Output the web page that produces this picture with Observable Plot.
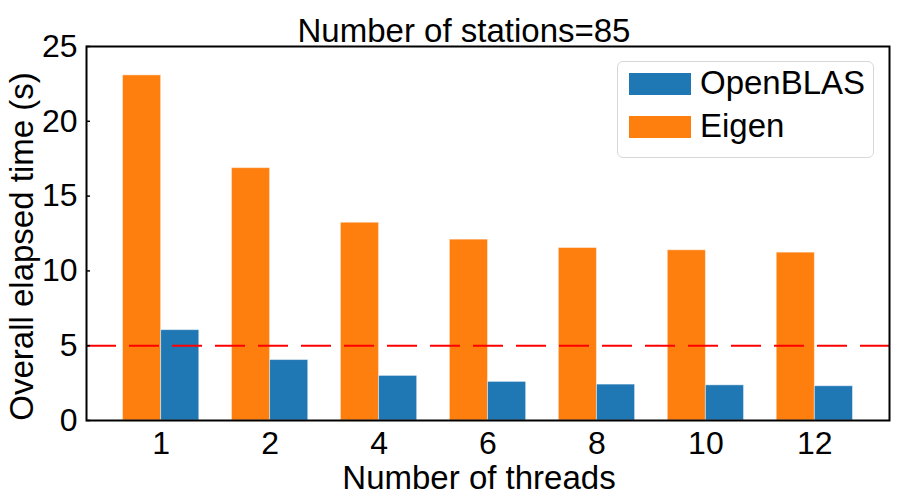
<!DOCTYPE html>
<html>
<head>
<meta charset="utf-8">
<script src="https://cdn.jsdelivr.net/npm/d3@7"></script>
<script src="https://cdn.jsdelivr.net/npm/@observablehq/plot@0.6"></script>
<style>
  html, body { margin: 0; padding: 0; background: white; }
  #wrap { position: relative; width: 898px; height: 499px; font-family: "Liberation Sans", Arial, sans-serif; color: black; }
  #title { position: relative; height: 44px; }
  #title span { position: absolute; left: 464px; top: 14px; transform: translateX(-50%); font-size: 33px; line-height: 33px; white-space: nowrap; }
  #legend { position: absolute; left: 617px; top: 61px; width: 257px; height: 97px; box-sizing: border-box;
            border: 1.5px solid #d8d8d8; border-radius: 6px; background: rgba(255,255,255,0.8); }
  .row { position: absolute; left: 11px; height: 22px; }
  .sw { position: absolute; left: 0; top: 0; width: 62px; height: 22px; }
  .lb { position: absolute; left: 71px; top: -7px; font-size: 33px; line-height: 33px; white-space: nowrap; }
  svg { display: block; }
</style>
</head>
<body>
<div id="wrap">
  <div id="title"><span></span></div>
  <div id="chart"></div>
  <div id="legend"></div>
</div>
<script>
// ---- data ----
const threads = ["1", "2", "4", "6", "8", "10", "12"];
const eigen = [23.07, 16.87, 13.22, 12.09, 11.53, 11.38, 11.22];
const openblas = [6.04, 4.04, 2.98, 2.58, 2.40, 2.35, 2.29];
const threshold = 5;
const yTicks = [0, 5, 10, 15, 20, 25];
const seriesNames = ["OpenBLAS", "Eigen"];
const titleText = "Number of stations=85";
const xLabel = "Number of threads";
const yLabel = "Overall elapsed time (s)";

// ---- styles ----
const colors = {OpenBLAS: "#1f77b4", Eigen: "#ff7f0e"};
const barWidth = 0.35;

const rows = threads.map((t, i) => ({i, t, eigen: eigen[i], openblas: openblas[i]}));
const lo = -barWidth, hi = threads.length - 1 + barWidth;
const pad = (hi - lo) * 0.05;

document.querySelector("#title span").textContent = titleText;

const chart = Plot.plot({
  width: 898,
  height: 455,
  marginTop: 2,
  marginBottom: 79,
  marginLeft: 86,
  marginRight: 9,
  style: {fontFamily: "'Liberation Sans', Arial, sans-serif", background: "white", color: "black", overflow: "visible"},
  x: {domain: [lo - pad, hi + pad]},
  y: {domain: [0, 25]},
  marks: [
    Plot.rectY(rows, {x1: d => d.i - barWidth, x2: d => d.i, y: "eigen", fill: colors.Eigen, stroke: "white", strokeOpacity: 0.45, strokeWidth: 1}),
    Plot.rectY(rows, {x1: d => d.i, x2: d => d.i + barWidth, y: "openblas", fill: colors.OpenBLAS, stroke: "white", strokeOpacity: 0.45, strokeWidth: 1}),
    Plot.ruleY([threshold], {stroke: "#ff0000", strokeWidth: 2, strokeDasharray: "30,13"}),
    Plot.axisY({ticks: yTicks, tickSize: -4, tickPadding: 13, fontSize: 32, label: null, stroke: "black", strokeWidth: 1.5}),
    Plot.axisX({ticks: d3.range(threads.length), tickFormat: i => threads[i], tickSize: 0, tickPadding: 11, fontSize: 32, label: null}),
    Plot.frame({stroke: "black", strokeWidth: 2}),
    Plot.text([yLabel], {frameAnchor: "left", textAnchor: "middle", rotate: -90, dx: -64.5, dy: 13, fontSize: 33}),
    Plot.text([xLabel], {frameAnchor: "bottom", lineAnchor: "top", dy: 45, dx: -9, fontSize: 33})
  ]
});
document.getElementById("chart").appendChild(chart);

// legend (inside the axes, upper right)
const legend = document.getElementById("legend");
seriesNames.forEach((name, k) => {
  const row = document.createElement("div");
  row.className = "row";
  row.style.top = (11 + k * 43.3) + "px";
  const sw = document.createElement("div");
  sw.className = "sw";
  sw.style.background = colors[name];
  const lb = document.createElement("div");
  lb.className = "lb";
  lb.textContent = name;
  row.appendChild(sw);
  row.appendChild(lb);
  legend.appendChild(row);
});
</script>
</body>
</html>
